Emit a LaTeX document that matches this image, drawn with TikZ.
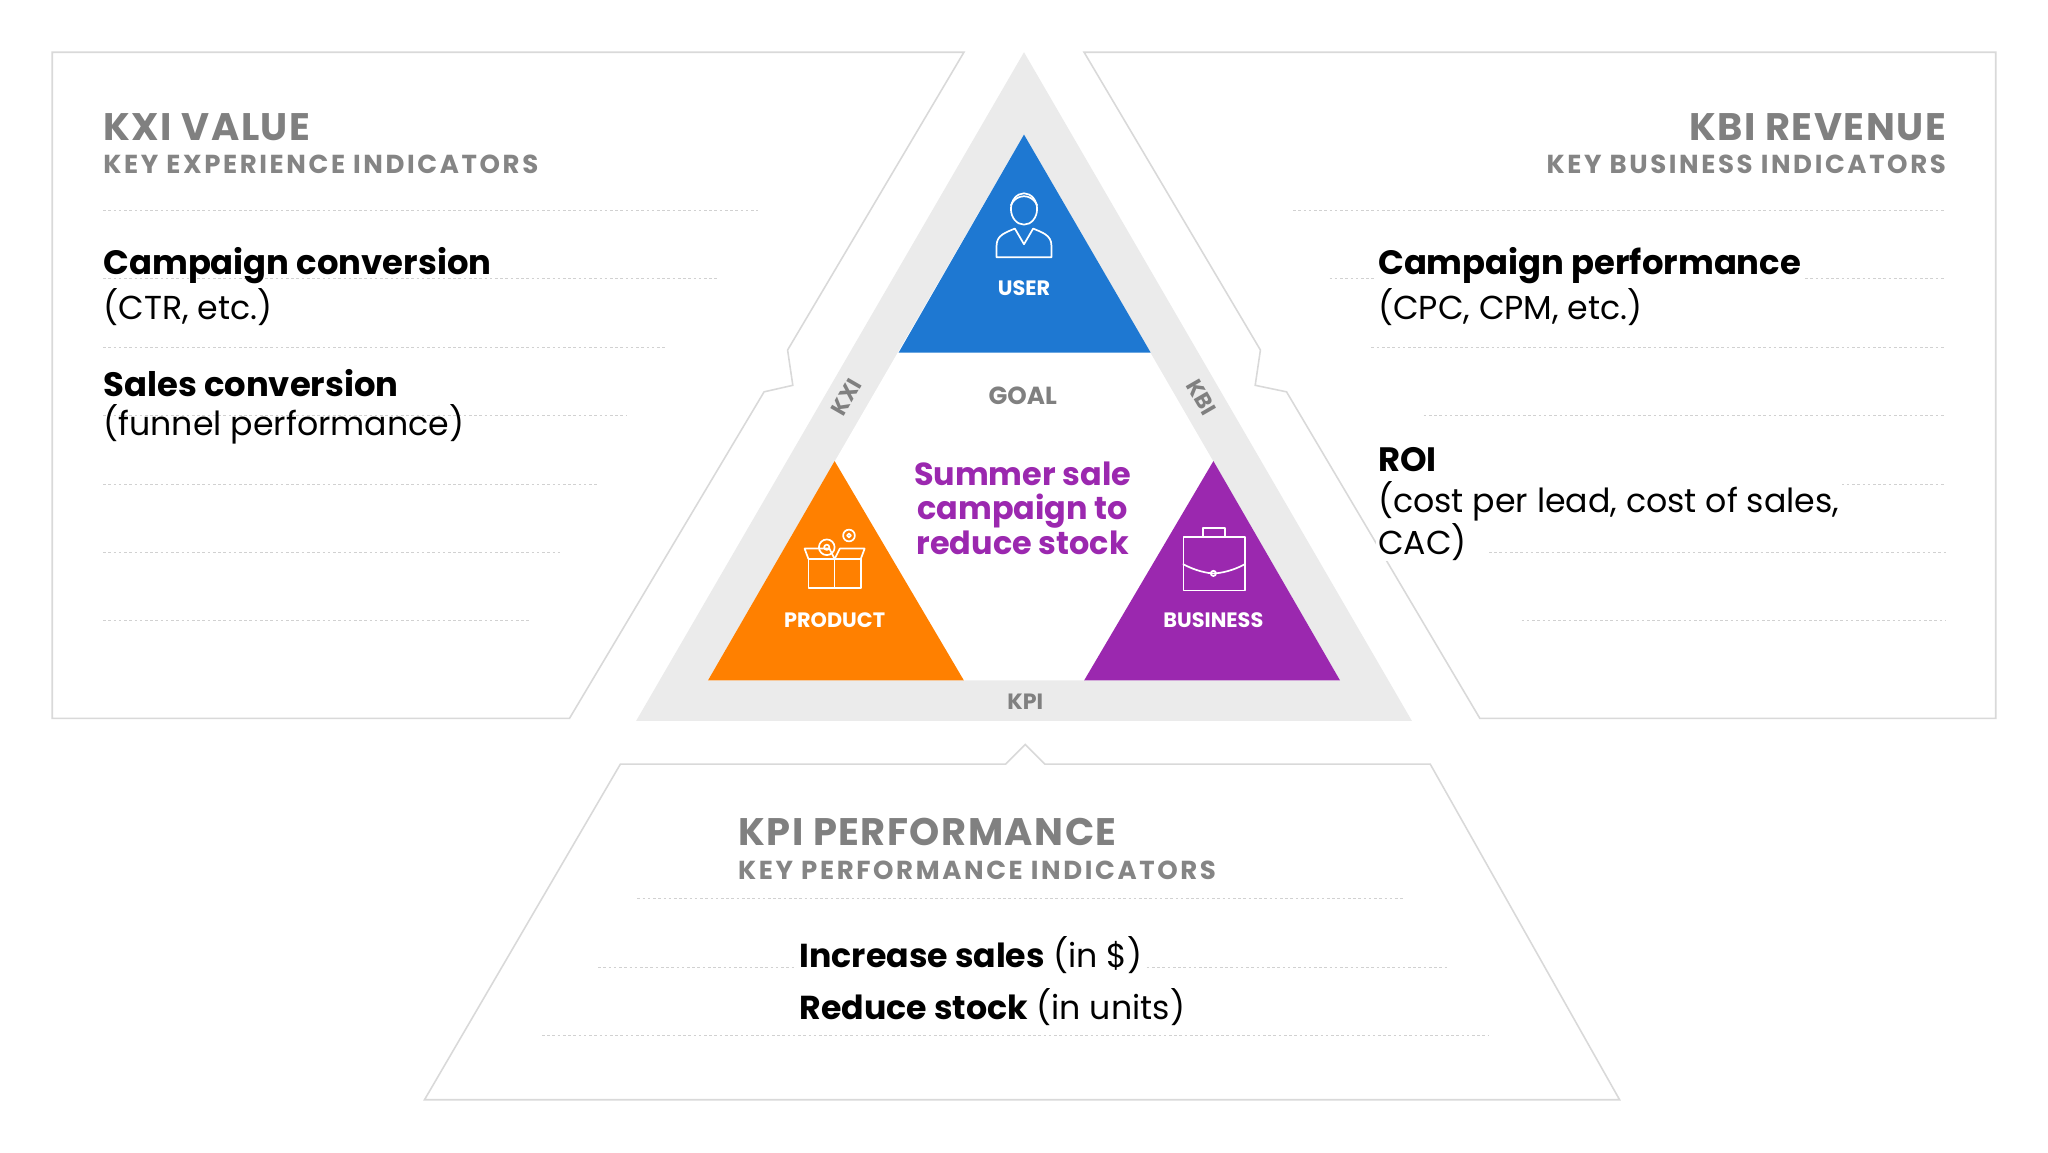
\documentclass[tikz,border=0pt]{standalone}
\usepackage{fontspec}
\setmainfont{Poppins}
\newfontfamily\wide[LetterSpace=10]{Poppins}
\newfontfamily\semiwide[LetterSpace=4]{Poppins}
\definecolor{cblue}{RGB}{30,120,210}
\definecolor{corange}{RGB}{255,128,0}
\definecolor{cpurple}{RGB}{155,40,175}
\begin{document}
\begin{tikzpicture}[x=1bp,y=-1bp,
  panel/.style={draw=black!15,line width=1.2bp,fill=white},
  dots/.style={draw=black!18,dash pattern=on 2bp off 2bp,line width=0.8bp},
  head/.style={font=\semiwide\fontsize{29.5}{30}\selectfont\bfseries,text=black!50,inner sep=0},
  sub/.style={font=\wide\fontsize{20}{20}\selectfont\bfseries,text=black!48,inner sep=0},
  big/.style={font=\fontsize{26}{26}\selectfont\bfseries,inner sep=0},
  reg/.style={font=\fontsize{25.5}{26}\selectfont,inner sep=0},
  lab/.style={font=\fontsize{16}{16}\selectfont\bfseries,text=white,inner sep=0},
  band/.style={font=\fontsize{17}{17}\selectfont\bfseries,text=black!50,inner sep=0},
  ico/.style={draw=white,line width=1.3bp,line join=round,line cap=round}]
\useasboundingbox (0,0) rectangle (1568,882);
\fill[white] (0,0) rectangle (1568,882);
% panels
\draw[panel] (40,40) -- (738,40) -- (603,268) -- (607,295) -- (585,300) -- (436,550) -- (40,550) -- cycle;
\draw[panel] (830,40) -- (1528,40) -- (1528,550) -- (1133,550) -- (985,300) -- (961,295) -- (965,268) -- cycle;
\draw[panel] (325,842) -- (475,585) -- (770,585) -- (785,570) -- (800,585) -- (1095,585) -- (1240,842) -- cycle;
% central triangle
\fill[black!8] (784,40) -- (1081,552) -- (487,552) -- cycle;
\fill[white] (784,103) -- (1026,521) -- (542,521) -- cycle;
\fill[cblue] (784,103) -- (881,270) -- (688,270) -- cycle;
\fill[corange] (639,353) -- (738,521) -- (542,521) -- cycle;
\fill[cpurple] (929,353) -- (1026,521) -- (830,521) -- cycle;
\node[band,rotate=60] (kxi) at (648,304) {KXI};
\node[band,rotate=-60] (kbi) at (920,304) {KBI};
\node[band] (kpi) at (785,537) {KPI};
\node[band,font=\fontsize{19}{19}\selectfont\bfseries] (goal) at (783,303) {GOAL};
\node[align=center,text=cpurple,font=\fontsize{24.5}{26.5}\selectfont\bfseries,inner sep=0] (camp) at (783,389) {Summer sale\\campaign to\\reduce stock};
\node[lab] (user) at (784,221) {USER};
\node[lab] (prod) at (639,475) {PRODUCT};
\node[lab] (bus) at (929,475) {BUSINESS};
% user icon
\draw[ico] (784,160) ellipse (10 and 12);
\draw[ico] (774,157) .. controls (778,148) and (790,148) .. (794,157);
\draw[ico] (763,197) -- (763,188) .. controls (763,180) and (770,178) .. (777,175) -- (784,187) -- (791,175) .. controls (798,178) and (805,180) .. (805,188) -- (805,197) -- cycle;
% product icon
\draw[ico] (619,428) -- (659,428) -- (659,450) -- (619,450) -- cycle;
\draw[ico] (639,428) -- (639,450);
\draw[ico] (619,428) -- (616,420) -- (635,420) -- (639,428) -- (643,420) -- (662,420) -- (659,428);
\draw[ico] (633,419) circle (6);
\draw[ico] (633,419) circle (2);
\draw[ico] (650,410) circle (4.5);
\draw[ico] (650,410) circle (1.5);
% business icon
\draw[ico] (906,411) rectangle (953,452);
\draw[ico] (921,411) -- (921,404) -- (938,404) -- (938,411);
\draw[ico] (906,432) .. controls (915,437) and (925,439) .. (929,439) .. controls (934,439) and (944,437) .. (953,432);
\draw[ico] (929,439) circle (2);
% left panel
\node[head,anchor=west] (lh) at (79,97) {KXI VALUE};
\node[sub,anchor=west] (ls) at (79,126) {KEY EXPERIENCE INDICATORS};
\foreach \y/\e in {161/580,213/550,266/510,318/480,371/458,423/430,475/405} \draw[dots] (79,\y) -- (\e,\y);
\node[big,anchor=west] (l1) at (79,203) {Campaign conversion};
\node[reg,anchor=west] (l2) at (79,235) {(CTR, etc.)};
\node[big,anchor=west] (l3) at (79,293) {Sales conversion};
\node[reg,anchor=west] (l4) at (79,325) {(funnel performance)};
% right panel
\node[head,anchor=east] (rh) at (1490,97) {KBI REVENUE};
\node[sub,anchor=east] (rs) at (1490,126) {KEY BUSINESS INDICATORS};
\foreach \y/\s in {161/990,213/1018,266/1050,318/1090,371/1110,423/1140,475/1165} \draw[dots] (\s,\y) -- (1490,\y);
\node[big,anchor=west,fill=white,inner xsep=2] (r1) at (1053,203) {Campaign performance};
\node[reg,anchor=west,fill=white,inner xsep=2] (r2) at (1053,235) {(CPC, CPM, etc.)};
\node[big,anchor=west,fill=white,inner xsep=2] (r3) at (1053,352) {ROI};
\node[reg,anchor=west,fill=white,inner xsep=2] (r4) at (1053,384) {(cost per lead, cost of sales,};
\node[reg,anchor=west,fill=white,inner xsep=2] (r5) at (1053,415) {CAC)};
% bottom panel
\node[head,anchor=west] (bh) at (565,637) {KPI PERFORMANCE};
\node[sub,anchor=west] (bs) at (565,666) {KEY PERFORMANCE INDICATORS};
\foreach \y/\s/\e in {688/488/1075,741/458/1110,793/415/1140} \draw[dots] (\s,\y) -- (\e,\y);
\node[reg,anchor=west,fill=white,inner xsep=2] (b1) at (610,731) {\textbf{Increase sales} (in \$)};
\node[reg,anchor=west,fill=white,inner xsep=2] (b2) at (610,771) {\textbf{Reduce stock} (in units)};
\end{tikzpicture}
\end{document}
